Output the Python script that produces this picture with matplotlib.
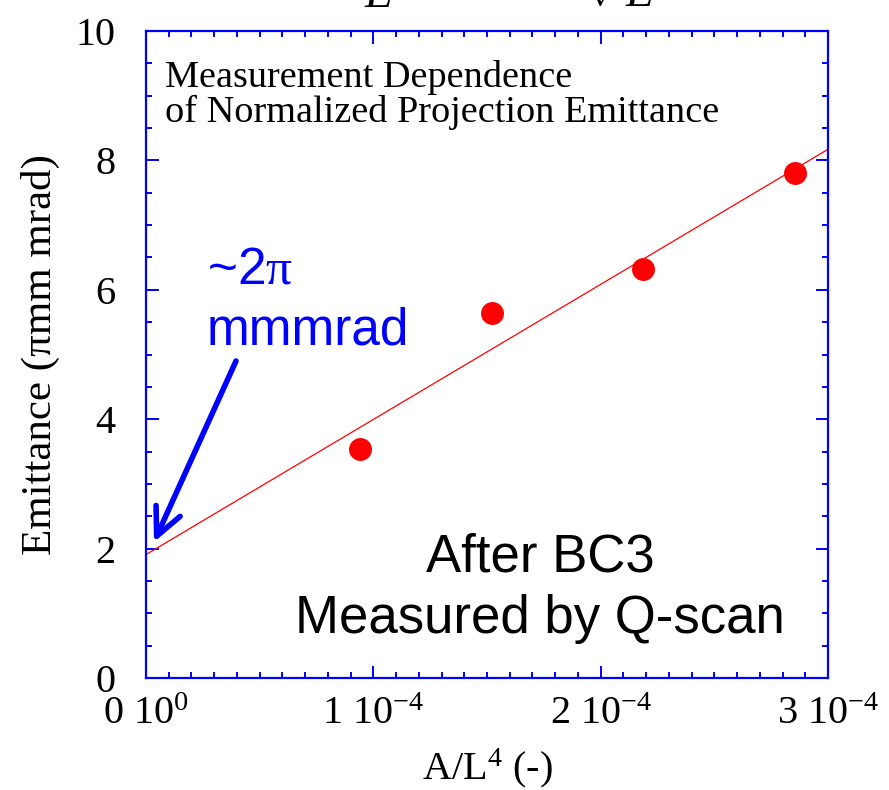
import numpy as np
import matplotlib
matplotlib.use("Agg")
import matplotlib.pyplot as plt
from matplotlib.ticker import FixedLocator, FixedFormatter, MultipleLocator

# Measured emittance versus A/L^4
a_over_l4 = [0.941e-4, 1.522e-4, 2.186e-4, 2.855e-4]
emittance = [3.54, 5.64, 6.32, 7.80]

x_ticks = [0.0, 1e-4, 2e-4, 3e-4]
x_tick_labels = ["0 10$^{0}$", "1 10$^{-4}$", "2 10$^{-4}$", "3 10$^{-4}$"]
y_ticks = [0, 2, 4, 6, 8, 10]
y_tick_labels = ["0", "2", "4", "6", "8", "10"]

SERIF = "Liberation Serif"
SANS = "Liberation Sans"
BLUE = "#0000ff"
RED = "#ff0000"

plt.rcParams["mathtext.default"] = "regular"
plt.rcParams["mathtext.fontset"] = "custom"
plt.rcParams["mathtext.rm"] = SERIF
plt.rcParams["mathtext.it"] = SERIF + ":italic"

fig = plt.figure(figsize=(8.89, 7.90), dpi=100)
ax = fig.add_axes([146 / 889, 112 / 790, 682 / 889, 647 / 790])

# linear fit through the measurements
slope, intercept = np.polyfit(a_over_l4, emittance, 1)
fit_x = np.array([0.0, 3e-4])
ax.plot(fit_x, intercept + slope * fit_x, color=RED, lw=0.9, zorder=2)
ax.plot(a_over_l4, emittance, "o", color=RED, markersize=15.5, zorder=3)

ax.set_xlim(0, 3e-4)
ax.set_ylim(0, 10)

ax.xaxis.set_major_locator(FixedLocator(x_ticks))
ax.xaxis.set_major_formatter(FixedFormatter(x_tick_labels))
ax.xaxis.set_minor_locator(MultipleLocator(1e-5))
ax.yaxis.set_major_locator(FixedLocator(y_ticks))
ax.yaxis.set_major_formatter(FixedFormatter(y_tick_labels))
ax.yaxis.set_minor_locator(MultipleLocator(0.5))

for s in ax.spines.values():
    s.set_color(BLUE)
    s.set_linewidth(1.6)

ax.tick_params(which="both", direction="in", top=True, right=True,
               color=BLUE, width=1.4)
ax.tick_params(which="major", length=9)
ax.tick_params(which="minor", length=4.6)
ax.tick_params(axis="y", which="major", pad=22)
ax.tick_params(axis="x", which="major", pad=13)
for lab in ax.get_xticklabels() + ax.get_yticklabels():
    lab.set_fontfamily(SERIF)
    lab.set_fontsize(29)

ax.set_xlabel("A/L$^{4}$ (-)", fontfamily=SERIF, fontsize=29, va="center")
ax.xaxis.set_label_coords(0.5, -0.14)
ax.set_ylabel("Emittance (\u03c0mm mrad)", fontfamily=SERIF, fontsize=31,
              va="center")
ax.yaxis.set_label_coords(-0.155, 0.5)

ax.text(0.028, 0.955, "Measurement Dependence\nof Normalized Projection Emittance",
        transform=ax.transAxes, fontfamily=SERIF, fontsize=27.5,
        ha="left", va="top", linespacing=1.0)

ax.text(0.0894, 0.6105, r"~2$\mathrm{\pi}$", transform=ax.transAxes,
        fontfamily=SANS, fontsize=37, color=BLUE, ha="left", va="baseline")
ax.text(0.0894, 0.5147, "mmmrad", transform=ax.transAxes, fontfamily=SANS,
        fontsize=37, color=BLUE, ha="left", va="baseline")

ax.text(0.5777, 0.164, "After BC3", transform=ax.transAxes, fontfamily=SANS,
        fontsize=38, ha="center", va="baseline")
ax.text(0.5777, 0.069, "Measured by Q-scan", transform=ax.transAxes,
        fontfamily=SANS, fontsize=38, ha="center", va="baseline")

# arrow pointing at the intercept
ax.annotate("", xy=(0.035e-4, 2.10), xytext=(0.396e-4, 4.90),
            arrowprops=dict(arrowstyle="->,head_length=2.0,head_width=0.95",
                            color=BLUE, lw=4, mutation_scale=10,
                            shrinkA=0, shrinkB=0),
            annotation_clip=False, zorder=4)

# lower edge of the formula above the plot
fig.text(379 / 889, 1 - 7 / 790, "E", fontfamily=SERIF, style="italic",
         fontsize=33, ha="center", va="baseline")
fig.text(622 / 889, 1 - 7 / 790, r"$\sqrt{\mathit{E}}$", fontfamily=SERIF,
         fontsize=33, ha="center", va="baseline")

fig.savefig("out.png", dpi=100, facecolor="white")
